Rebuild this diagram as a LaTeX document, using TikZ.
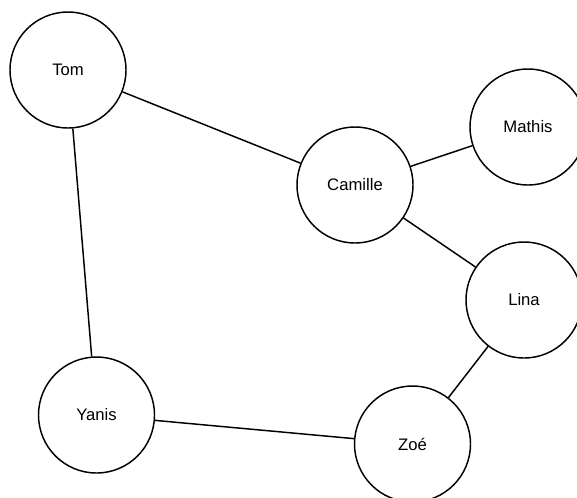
\documentclass[tikz,border=0pt]{standalone}
\usepackage{fontspec}
\setmainfont{Liberation Sans}
\tikzset{%
  person/.style = {shape=circle, draw, line width=1.1pt,%
                   minimum size=87pt, inner sep=0pt,%
                   font=\fontsize{12.5}{14}\selectfont},%
  link/.style   = {line width=1.1pt}%
}
\begin{document}
\begin{tikzpicture}[x=0.75pt,y=-0.75pt]
  \useasboundingbox (0,0) rectangle (577,497);
  \clip (0,0) rectangle (577,497);
  \node[person] (tom)     at (68,70)    {Tom};
  \node[person] (camille) at (355,185)  {Camille};
  \node[person] (mathis)  at (528,127)  {Mathis};
  \node[person] (lina)    at (524,300)  {Lina};
  \node[person] (yanis)   at (96.5,415) {Yanis};
  \node[person] (zoe)     at (412.5,444) {Zoé};
  % connections
  \draw[link] (tom) -- (camille);
  \draw[link] (tom) -- (yanis);
  \draw[link] (camille) -- (mathis);
  \draw[link] (camille) -- (lina);
  \draw[link] (lina) -- (zoe);
  \draw[link] (yanis) -- (zoe);
\end{tikzpicture}
\end{document}
